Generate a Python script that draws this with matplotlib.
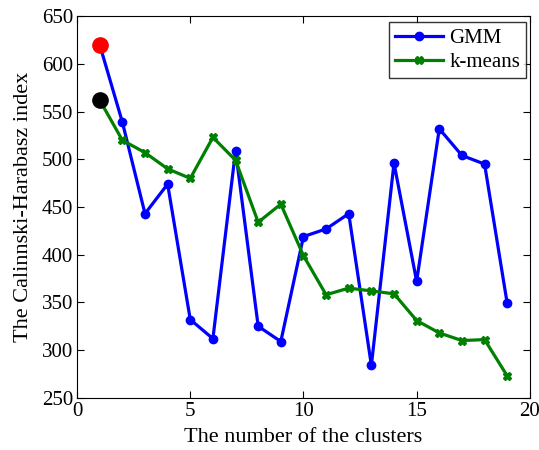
import matplotlib
matplotlib.use('Agg')
import matplotlib.pyplot as plt

# Calinski-Harabasz index per number of clusters
clusters = list(range(1, 20))
gmm = [620, 539, 443, 474, 332, 312, 509, 325, 309, 419,
       427, 443, 284, 496, 372, 532, 504, 495, 349]
kmeans = [562, 520, 507, 490, 480, 523, 499, 434, 453, 399,
          358, 365, 362, 359, 331, 318, 310, 311, 273]

plt.rcParams['font.family'] = ['Liberation Serif', 'DejaVu Serif']

fig = plt.figure(figsize=(5.39, 4.5), dpi=100)
ax = fig.add_axes([0.143, 0.116, 0.840, 0.848])

ax.plot(clusters, gmm, color='blue', marker='o', markersize=6, linewidth=2.3, label='GMM')
ax.plot(clusters, kmeans, color='green', marker='X', markersize=6, linewidth=2.3, label='k-means')
# highlight the best value of each method
ax.plot(clusters[0], gmm[0], 'o', color='red', markersize=11)
ax.plot(clusters[0], kmeans[0], 'o', color='black', markersize=11)

ax.set_xlim(0, 20)
ax.set_ylim(250, 650)
ax.set_xticks([0, 5, 10, 15, 20])
ax.set_yticks(range(250, 651, 50))
ax.tick_params(direction='in', top=True, right=True, labelsize=15, length=5, pad=3)
ax.set_xlabel('The number of the clusters', fontsize=16, labelpad=5)
ax.set_ylabel('The Calinnski-Harabasz index', fontsize=16, labelpad=6)

leg = ax.legend(loc='upper right', bbox_to_anchor=(0.992, 0.984), fontsize=15,
                fancybox=False, edgecolor='black', handlelength=2.3, borderpad=0.3,
                labelspacing=0.2, handletextpad=0.3, borderaxespad=0)
leg.get_frame().set_linewidth(1.0)

plt.savefig('out.png', dpi=100)
